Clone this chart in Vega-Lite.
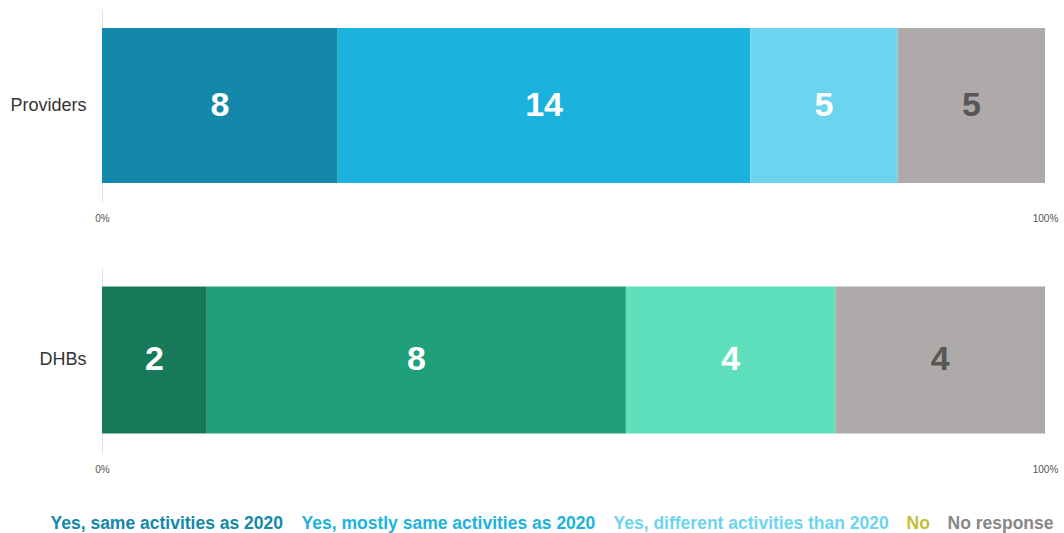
{
  "$schema": "https://vega.github.io/schema/vega-lite/v6.json",
  "padding": {"left": 5, "top": 9, "right": 5, "bottom": 5},
  "background": "white",
  "config": {"view": {"stroke": null}, "font": "Liberation Sans", "concat": {"spacing": 40}},
  "datasets": {
    "d": [
      {"group": "Providers", "category": "Yes, same activities as 2020", "k": 1, "value": 8},
      {"group": "Providers", "category": "Yes, mostly same activities as 2020", "k": 2, "value": 14},
      {"group": "Providers", "category": "Yes, different activities than 2020", "k": 3, "value": 5},
      {"group": "Providers", "category": "No", "k": 4, "value": 0},
      {"group": "Providers", "category": "No response", "k": 5, "value": 5},
      {"group": "DHBs", "category": "Yes, same activities as 2020", "k": 1, "value": 2},
      {"group": "DHBs", "category": "Yes, mostly same activities as 2020", "k": 2, "value": 8},
      {"group": "DHBs", "category": "Yes, different activities than 2020", "k": 3, "value": 4},
      {"group": "DHBs", "category": "No", "k": 4, "value": 0},
      {"group": "DHBs", "category": "No response", "k": 5, "value": 4}
    ]
  },
  "vconcat": [
    {
      "width": 943,
      "height": 193,
      "data": {"name": "d"},
      "transform": [
        {"filter": "datum.group === 'Providers'"},
        {"stack": "value", "groupby": ["group"], "sort": [{"field": "k"}], "offset": "normalize", "as": ["x0", "x1"]},
        {"calculate": "(datum.x0 + datum.x1) / 2", "as": "xm"}
      ],
      "encoding": {
        "y": {
          "field": "group", "type": "nominal",
          "scale": {"paddingInner": 0, "paddingOuter": 0.1226},
          "axis": {"title": null, "labelFontSize": 18, "labelColor": "#333333", "labelPadding": 16, "ticks": false, "domain": true, "domainColor": "#e2e2e2", "minExtent": 97, "maxExtent": 97}
        }
      },
      "layer": [
        {
          "mark": {"type": "bar"},
          "encoding": {
            "x": {
              "field": "x0", "type": "quantitative", "scale": {"domain": [0, 1]},
              "axis": {"values": [0, 1], "format": "%", "title": null, "grid": false, "domain": false, "ticks": false, "labelFontSize": 10, "labelColor": "#555555", "labelPadding": 11, "labelFlush": false, "minExtent": 25, "maxExtent": 25}
            },
            "x2": {"field": "x1"},
            "color": {
              "field": "category", "type": "nominal",
              "scale": {
                "domain": ["Yes, same activities as 2020", "Yes, mostly same activities as 2020", "Yes, different activities than 2020", "No", "No response"],
                "range": ["#1388a9", "#1bb3dd", "#6dd4f0", "#c4c03c", "#aeaaa9"]
              },
              "legend": {
                "title": null,
                "orient": "none",
                "direction": "horizontal",
                "columns": 5,
                "legendX": -69,
                "legendY": 506,
                "symbolSize": 0,
                "symbolStrokeWidth": 0,
                "symbolOpacity": 0,
                "labelOffset": 0,
                "columnPadding": -2,
                "labelFontSize": 17.5,
                "labelFontWeight": "bold",
                "labelLimit": 400,
                "encode": {
                  "labels": {
                    "update": {
                      "fill": {"signal": "datum.value === 'No' ? '#c2bf3c' : datum.value === 'No response' ? '#8a8686' : datum.value === 'Yes, same activities as 2020' ? '#1388a9' : datum.value === 'Yes, mostly same activities as 2020' ? '#1bb3dd' : '#6dd4f0'"}
                    }
                  }
                }
              }
            }
          }
        },
        {
          "transform": [{"filter": "datum.value > 0"}],
          "mark": {"type": "text", "fontSize": 34, "fontWeight": "bold", "baseline": "middle", "align": "center"},
          "encoding": {
            "x": {"field": "xm", "type": "quantitative"},
            "text": {"field": "value", "type": "quantitative"},
            "color": {"condition": {"test": "datum.category === 'No response'", "value": "#575757"}, "value": "#ffffff"}
          }
        }
      ]
    },
    {
      "width": 943,
      "height": 186,
      "data": {"name": "d"},
      "transform": [
        {"filter": "datum.group === 'DHBs'"},
        {"stack": "value", "groupby": ["group"], "sort": [{"field": "k"}], "offset": "normalize", "as": ["x0", "x1"]},
        {"calculate": "(datum.x0 + datum.x1) / 2", "as": "xm"}
      ],
      "encoding": {
        "y": {
          "field": "group", "type": "nominal",
          "scale": {"paddingInner": 0, "paddingOuter": 0.1327},
          "axis": {"title": null, "labelFontSize": 18, "labelColor": "#333333", "labelPadding": 16, "ticks": false, "domain": true, "domainColor": "#e2e2e2", "minExtent": 97, "maxExtent": 97}
        }
      },
      "layer": [
        {
          "mark": {"type": "bar"},
          "encoding": {
            "x": {
              "field": "x0", "type": "quantitative", "scale": {"domain": [0, 1]},
              "axis": {"values": [0, 1], "format": "%", "title": null, "grid": false, "domain": false, "ticks": false, "labelFontSize": 10, "labelColor": "#555555", "labelPadding": 11, "labelFlush": false, "minExtent": 25, "maxExtent": 25}
            },
            "x2": {"field": "x1"},
            "fill": {
              "field": "category", "type": "nominal",
              "scale": {
                "domain": ["Yes, same activities as 2020", "Yes, mostly same activities as 2020", "Yes, different activities than 2020", "No", "No response"],
                "range": ["#17785a", "#20a07a", "#5fe0bc", "#c4c03c", "#aeaaa9"]
              },
              "legend": null
            }
          }
        },
        {
          "transform": [{"filter": "datum.value > 0"}],
          "mark": {"type": "text", "fontSize": 34, "fontWeight": "bold", "baseline": "middle", "align": "center"},
          "encoding": {
            "x": {"field": "xm", "type": "quantitative"},
            "text": {"field": "value", "type": "quantitative"},
            "color": {"condition": {"test": "datum.category === 'No response'", "value": "#575757"}, "value": "#ffffff"}
          }
        }
      ]
    }
  ]
}
